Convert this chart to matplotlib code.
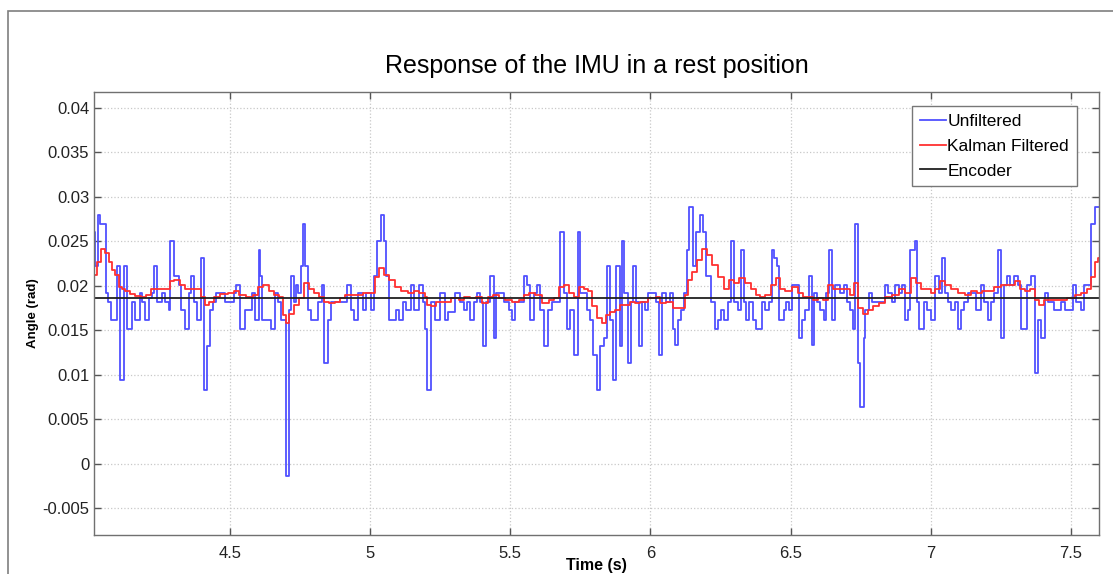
import matplotlib
matplotlib.use('Agg')
import matplotlib.pyplot as plt
from matplotlib.patches import Rectangle

# unfiltered IMU angle, read as step changes (time s, angle rad)
blue_time = [
    4.015, 4.019, 4.029, 4.036, 4.058, 4.065, 4.076, 4.097, 4.108, 4.122,
    4.133, 4.150, 4.160, 4.179, 4.186, 4.197, 4.211, 4.222, 4.229, 4.240,
    4.257, 4.268, 4.282, 4.286, 4.300, 4.318, 4.325, 4.339, 4.354, 4.361,
    4.371, 4.382, 4.396, 4.407, 4.418, 4.428, 4.439, 4.450, 4.482, 4.514,
    4.521, 4.536, 4.553, 4.578, 4.589, 4.603, 4.608, 4.614, 4.645, 4.659,
    4.671, 4.683, 4.700, 4.709, 4.718, 4.728, 4.736, 4.742, 4.752, 4.760,
    4.768, 4.778, 4.789, 4.813, 4.828, 4.837, 4.851, 4.861, 4.918, 4.930,
    4.944, 4.956, 4.974, 4.986, 5.003, 5.015, 5.025, 5.037, 5.049, 5.057,
    5.069, 5.092, 5.104, 5.116, 5.128, 5.146, 5.158, 5.176, 5.188, 5.196,
    5.204, 5.217, 5.233, 5.248, 5.268, 5.277, 5.304, 5.322, 5.334, 5.345,
    5.358, 5.369, 5.381, 5.393, 5.402, 5.414, 5.429, 5.441, 5.450, 5.476,
    5.494, 5.506, 5.518, 5.548, 5.559, 5.571, 5.583, 5.595, 5.607, 5.619,
    5.633, 5.648, 5.676, 5.690, 5.702, 5.714, 5.726, 5.740, 5.750, 5.773,
    5.785, 5.795, 5.809, 5.821, 5.836, 5.844, 5.857, 5.868, 5.878, 5.890,
    5.899, 5.907, 5.919, 5.931, 5.937, 5.949, 5.958, 5.971, 5.979, 5.991,
    6.020, 6.032, 6.042, 6.056, 6.068, 6.080, 6.089, 6.097, 6.109, 6.121,
    6.129, 6.139, 6.151, 6.163, 6.175, 6.187, 6.199, 6.217, 6.229, 6.240,
    6.252, 6.264, 6.276, 6.288, 6.299, 6.311, 6.323, 6.332, 6.341, 6.353,
    6.365, 6.377, 6.398, 6.410, 6.422, 6.434, 6.440, 6.452, 6.460, 6.475,
    6.484, 6.493, 6.505, 6.529, 6.541, 6.553, 6.565, 6.577, 6.582, 6.594,
    6.606, 6.618, 6.626, 6.636, 6.648, 6.659, 6.677, 6.689, 6.701, 6.713,
    6.721, 6.731, 6.739, 6.749, 6.760, 6.766, 6.778, 6.790, 6.837, 6.849,
    6.861, 6.873, 6.885, 6.897, 6.909, 6.918, 6.927, 6.942, 6.951, 6.959,
    6.975, 6.987, 7.001, 7.016, 7.031, 7.039, 7.049, 7.061, 7.073, 7.085,
    7.097, 7.108, 7.120, 7.132, 7.162, 7.179, 7.191, 7.203, 7.213, 7.225,
    7.239, 7.251, 7.261, 7.272, 7.281, 7.298, 7.311, 7.322, 7.344, 7.356,
    7.370, 7.382, 7.394, 7.406, 7.418, 7.441, 7.465, 7.477, 7.507, 7.518,
    7.536, 7.548, 7.572, 7.584, 7.600]
blue_angle = [
    0.0261, 0.0222, 0.0280, 0.0270, 0.0192, 0.0182, 0.0162, 0.0222, 0.0094, 0.0222,
    0.0152, 0.0182, 0.0162, 0.0192, 0.0182, 0.0162, 0.0186, 0.0192, 0.0222, 0.0182,
    0.0192, 0.0182, 0.0173, 0.0250, 0.0211, 0.0201, 0.0173, 0.0152, 0.0192, 0.0211,
    0.0182, 0.0162, 0.0231, 0.0083, 0.0133, 0.0173, 0.0182, 0.0192, 0.0182, 0.0192,
    0.0201, 0.0152, 0.0173, 0.0192, 0.0162, 0.0240, 0.0211, 0.0162, 0.0152, 0.0192,
    0.0182, 0.0162, -0.0014, 0.0173, 0.0211, 0.0182, 0.0201, 0.0192, 0.0222, 0.0270,
    0.0222, 0.0173, 0.0162, 0.0182, 0.0201, 0.0113, 0.0162, 0.0182, 0.0201, 0.0173,
    0.0162, 0.0192, 0.0173, 0.0192, 0.0173, 0.0211, 0.0250, 0.0280, 0.0250, 0.0211,
    0.0162, 0.0173, 0.0162, 0.0182, 0.0173, 0.0201, 0.0173, 0.0201, 0.0182, 0.0152,
    0.0083, 0.0182, 0.0162, 0.0192, 0.0162, 0.0171, 0.0192, 0.0182, 0.0173, 0.0182,
    0.0162, 0.0182, 0.0192, 0.0182, 0.0133, 0.0182, 0.0211, 0.0142, 0.0192, 0.0182,
    0.0173, 0.0162, 0.0182, 0.0211, 0.0201, 0.0162, 0.0192, 0.0201, 0.0173, 0.0133,
    0.0173, 0.0182, 0.0261, 0.0192, 0.0152, 0.0173, 0.0122, 0.0261, 0.0192, 0.0173,
    0.0162, 0.0122, 0.0083, 0.0133, 0.0142, 0.0222, 0.0162, 0.0094, 0.0222, 0.0133,
    0.0250, 0.0192, 0.0113, 0.0182, 0.0222, 0.0182, 0.0133, 0.0182, 0.0173, 0.0192,
    0.0182, 0.0122, 0.0192, 0.0182, 0.0192, 0.0152, 0.0134, 0.0162, 0.0173, 0.0192,
    0.0240, 0.0289, 0.0222, 0.0261, 0.0280, 0.0261, 0.0211, 0.0182, 0.0152, 0.0162,
    0.0173, 0.0162, 0.0182, 0.0250, 0.0182, 0.0173, 0.0240, 0.0182, 0.0162, 0.0182,
    0.0162, 0.0152, 0.0182, 0.0173, 0.0182, 0.0240, 0.0231, 0.0222, 0.0162, 0.0173,
    0.0182, 0.0173, 0.0201, 0.0142, 0.0162, 0.0173, 0.0211, 0.0134, 0.0192, 0.0182,
    0.0173, 0.0162, 0.0192, 0.0240, 0.0162, 0.0201, 0.0192, 0.0201, 0.0182, 0.0173,
    0.0152, 0.0270, 0.0113, 0.0064, 0.0142, 0.0173, 0.0192, 0.0182, 0.0201, 0.0192,
    0.0182, 0.0201, 0.0192, 0.0201, 0.0162, 0.0173, 0.0240, 0.0250, 0.0182, 0.0152,
    0.0182, 0.0173, 0.0162, 0.0211, 0.0192, 0.0231, 0.0192, 0.0182, 0.0173, 0.0182,
    0.0152, 0.0173, 0.0182, 0.0192, 0.0173, 0.0201, 0.0182, 0.0162, 0.0182, 0.0192,
    0.0240, 0.0142, 0.0201, 0.0211, 0.0201, 0.0211, 0.0201, 0.0152, 0.0201, 0.0211,
    0.0102, 0.0162, 0.0142, 0.0192, 0.0182, 0.0173, 0.0182, 0.0173, 0.0201, 0.0182,
    0.0173, 0.0201, 0.0270, 0.0289, 0.0289]

# Kalman filtered angle
red_time = [
    4.017, 4.032, 4.050, 4.061, 4.073, 4.085, 4.097, 4.109, 4.121, 4.133,
    4.151, 4.174, 4.192, 4.210, 4.228, 4.263, 4.281, 4.293, 4.311, 4.329,
    4.353, 4.370, 4.388, 4.402, 4.418, 4.436, 4.453, 4.477, 4.507, 4.525,
    4.543, 4.572, 4.590, 4.608, 4.630, 4.648, 4.665, 4.683, 4.695, 4.705,
    4.719, 4.737, 4.754, 4.772, 4.790, 4.808, 4.826, 4.844, 4.861, 4.885,
    4.903, 4.921, 4.956, 4.992, 5.010, 5.022, 5.040, 5.057, 5.075, 5.099,
    5.123, 5.146, 5.164, 5.188, 5.200, 5.209, 5.227, 5.244, 5.274, 5.304,
    5.328, 5.345, 5.369, 5.387, 5.411, 5.429, 5.446, 5.470, 5.494, 5.518,
    5.541, 5.559, 5.577, 5.601, 5.625, 5.648, 5.666, 5.684, 5.702, 5.720,
    5.737, 5.755, 5.773, 5.783, 5.801, 5.819, 5.836, 5.848, 5.866, 5.884,
    5.902, 5.920, 5.937, 5.955, 5.973, 6.009, 6.027, 6.044, 6.068, 6.092,
    6.116, 6.128, 6.139, 6.157, 6.175, 6.193, 6.211, 6.229, 6.252, 6.270,
    6.288, 6.306, 6.329, 6.347, 6.371, 6.383, 6.398, 6.422, 6.439, 6.455,
    6.469, 6.493, 6.517, 6.534, 6.552, 6.570, 6.588, 6.606, 6.623, 6.641,
    6.659, 6.683, 6.701, 6.719, 6.736, 6.748, 6.766, 6.784, 6.802, 6.825,
    6.849, 6.873, 6.897, 6.920, 6.938, 6.956, 6.974, 6.990, 7.008, 7.025,
    7.043, 7.061, 7.085, 7.109, 7.132, 7.156, 7.174, 7.192, 7.215, 7.239,
    7.263, 7.287, 7.311, 7.328, 7.346, 7.364, 7.376, 7.394, 7.417, 7.465,
    7.507, 7.524, 7.548, 7.566, 7.578, 7.590, 7.600]
red_angle = [
    0.0212, 0.0227, 0.0242, 0.0237, 0.0227, 0.0218, 0.0212, 0.0199, 0.0197, 0.0194,
    0.0191, 0.0189, 0.0188, 0.0190, 0.0196, 0.0196, 0.0196, 0.0205, 0.0207, 0.0201,
    0.0196, 0.0197, 0.0196, 0.0188, 0.0179, 0.0182, 0.0188, 0.0191, 0.0192, 0.0194,
    0.0190, 0.0188, 0.0190, 0.0199, 0.0201, 0.0194, 0.0190, 0.0188, 0.0167, 0.0158,
    0.0169, 0.0179, 0.0186, 0.0203, 0.0196, 0.0192, 0.0188, 0.0182, 0.0181, 0.0182,
    0.0186, 0.0190, 0.0190, 0.0192, 0.0192, 0.0210, 0.0220, 0.0212, 0.0207, 0.0199,
    0.0194, 0.0192, 0.0194, 0.0192, 0.0188, 0.0179, 0.0177, 0.0182, 0.0182, 0.0186,
    0.0184, 0.0188, 0.0186, 0.0188, 0.0181, 0.0188, 0.0190, 0.0186, 0.0184, 0.0182,
    0.0184, 0.0190, 0.0192, 0.0190, 0.0181, 0.0184, 0.0186, 0.0199, 0.0201, 0.0192,
    0.0188, 0.0199, 0.0197, 0.0194, 0.0177, 0.0164, 0.0158, 0.0167, 0.0171, 0.0173,
    0.0179, 0.0179, 0.0182, 0.0181, 0.0182, 0.0186, 0.0188, 0.0181, 0.0182, 0.0175,
    0.0175, 0.0190, 0.0207, 0.0216, 0.0229, 0.0242, 0.0235, 0.0224, 0.0210, 0.0197,
    0.0207, 0.0203, 0.0209, 0.0203, 0.0196, 0.0190, 0.0188, 0.0190, 0.0201, 0.0209,
    0.0197, 0.0194, 0.0199, 0.0192, 0.0188, 0.0188, 0.0184, 0.0186, 0.0184, 0.0201,
    0.0197, 0.0197, 0.0196, 0.0190, 0.0203, 0.0175, 0.0169, 0.0173, 0.0177, 0.0181,
    0.0188, 0.0190, 0.0196, 0.0192, 0.0209, 0.0203, 0.0197, 0.0197, 0.0192, 0.0197,
    0.0205, 0.0201, 0.0197, 0.0192, 0.0190, 0.0194, 0.0192, 0.0194, 0.0194, 0.0199,
    0.0201, 0.0201, 0.0205, 0.0197, 0.0194, 0.0196, 0.0184, 0.0179, 0.0184, 0.0184,
    0.0186, 0.0190, 0.0192, 0.0197, 0.0210, 0.0227, 0.0231]

# encoder reference
encoder_time = [4.015, 7.600]
encoder_angle = [0.01865, 0.01865]

x_ticks = [4.5, 5, 5.5, 6, 6.5, 7, 7.5]
x_labels = ['4.5', '5', '5.5', '6', '6.5', '7', '7.5']
y_ticks = [-0.005, 0, 0.005, 0.01, 0.015, 0.02, 0.025, 0.03, 0.035, 0.04]
y_labels = ['-0.005', '0', '0.005', '0.01', '0.015', '0.02', '0.025', '0.03', '0.035', '0.04']


def main():
    plt.rcParams['font.family'] = ['Liberation Sans', 'DejaVu Sans']
    fig = plt.figure(figsize=(11.13, 5.74), dpi=100)

    # grey frame around the figure (left and top visible)
    fig.patches.append(Rectangle((8 / 1113, -0.1), 1.2, 1.1 - 11 / 574,
                                 transform=fig.transFigure, fill=False,
                                 edgecolor='#7f7f7f', linewidth=1.2))

    ax = fig.add_axes([94 / 1113, 1 - 535 / 574, 1005 / 1113, 443 / 574])

    ax.plot(blue_time, blue_angle, color='#5050ff', linewidth=1.3,
            drawstyle='steps-post', label='Unfiltered')
    ax.plot(red_time, red_angle, color='#ff3030', linewidth=1.3,
            drawstyle='steps-mid', label='Kalman Filtered')
    ax.plot(encoder_time, encoder_angle, color='#202020', linewidth=1.3,
            label='Encoder')

    ax.set_xlim(4.015, 7.6)
    ax.set_ylim(-0.008, 0.0418)
    ax.set_xticks(x_ticks)
    ax.set_xticklabels(x_labels)
    ax.set_yticks(y_ticks)
    ax.set_yticklabels(y_labels)
    ax.tick_params(direction='in', length=5, width=1, colors='#555555',
                   labelcolor='#222222', labelsize=12, top=True, right=True)
    ax.tick_params(axis='x', pad=8)
    ax.grid(True, linestyle=':', color='#c8c8c8', linewidth=0.9)
    for s in ax.spines.values():
        s.set_color('#707070')
        s.set_linewidth(1.0)

    ax.set_title('Response of the IMU in a rest position', fontsize=18, pad=14)
    ax.set_xlabel('Time (s)', fontsize=11.5, fontweight='bold', labelpad=-2)
    ax.set_ylabel('Angle (rad)', fontsize=9.5, fontweight='bold', labelpad=2)

    leg = ax.legend(loc='upper right', bbox_to_anchor=(0.978, 0.968),
                    borderaxespad=0, fontsize=12.5, fancybox=False,
                    framealpha=1, edgecolor='#777777', handlelength=1.5,
                    handletextpad=0.1, labelspacing=0.55, borderpad=0.45)
    leg.get_frame().set_linewidth(1.0)

    plt.savefig('out.png', dpi=100)


if __name__ == '__main__':
    main()
